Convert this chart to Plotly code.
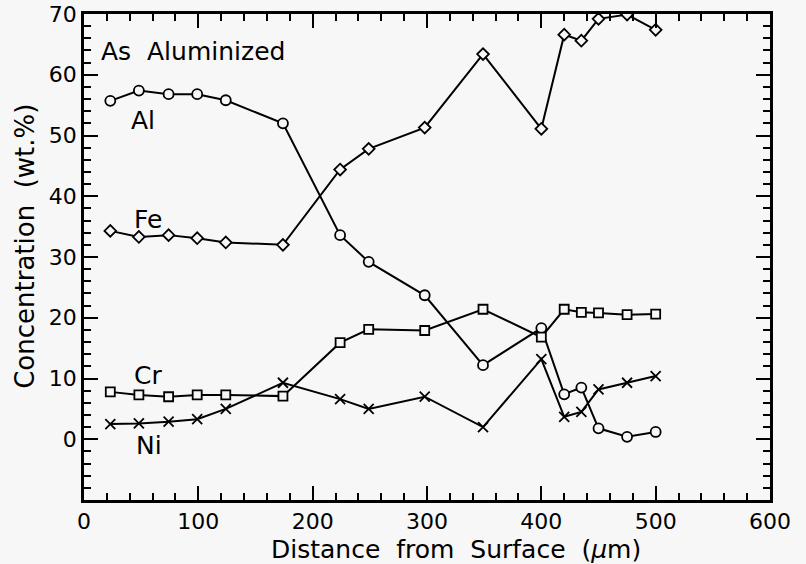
import plotly.graph_objects as go

distance = [23, 48, 74, 99, 124, 174, 224, 249, 298, 349, 400, 420, 435, 450, 475, 500]
al = [55.7, 57.4, 56.8, 56.8, 55.8, 52.0, 33.6, 29.2, 23.7, 12.2, 18.3, 7.4, 8.5, 1.8, 0.4, 1.2]
fe = [34.3, 33.3, 33.6, 33.1, 32.4, 32.0, 44.4, 47.8, 51.3, 63.4, 51.1, 66.6, 65.6, 69.2, 69.9, 67.4]
cr = [7.8, 7.3, 7.0, 7.3, 7.3, 7.1, 15.9, 18.1, 17.9, 21.4, 16.8, 21.4, 20.9, 20.8, 20.5, 20.6]
ni = [2.5, 2.6, 2.9, 3.3, 5.0, 9.3, 6.6, 5.0, 7.0, 2.0, 13.2, 3.7, 4.5, 8.2, 9.3, 10.4]

x_ticks = [0, 100, 200, 300, 400, 500, 600]
y_ticks = [0, 10, 20, 30, 40, 50, 60, 70]

BG = "#f7f7f7"
FONT = "DejaVu Sans"
NB = "\u00a0"

series = [
    ("Al", al, "circle", 10),
    ("Fe", fe, "diamond", 9),
    ("Cr", cr, "square", 9),
    ("Ni", ni, "x-thin", 10),
]

fig = go.Figure()
for name, vals, sym, size in series:
    fig.add_trace(go.Scatter(
        x=distance, y=vals, mode="lines+markers", name=name,
        line=dict(color="black", width=2),
        marker=dict(symbol=sym, size=size, color=BG,
                    line=dict(color="black", width=1.8)),
    ))

annots = [
    ("As" + NB + NB + "Aluminized", 13, 63.8),
    ("Al", 39, 52.5),
    ("Fe", 42, 36.1),
    ("Cr", 42, 10.5),
    ("Ni", 44, -1.0),
]
for txt, ax_, ay_ in annots:
    fig.add_annotation(x=ax_, y=ay_, text=txt, showarrow=False, xanchor="left",
                       font=dict(family=FONT, size=25, color="black"))

# axis titles (placed as paper annotations to match the original's offsets)
fig.add_annotation(xref="paper", yref="paper", x=0.542, y=-0.101,
                   text="Distance" + NB + NB + "from" + NB + NB + "Surface" + NB + NB + "(<i>μ</i>m)",
                   showarrow=False, xanchor="center", yanchor="middle",
                   font=dict(family=FONT, size=25, color="black"))
fig.add_annotation(xref="paper", yref="paper", x=-0.086, y=0.521,
                   text="Concentration" + NB + NB + "(wt.%)", textangle=-90,
                   showarrow=False, xanchor="center", yanchor="middle",
                   font=dict(family=FONT, size=26, color="black"))

axis_common = dict(
    showgrid=False, zeroline=False, showline=True, linecolor="black", linewidth=2.5,
    mirror="ticks", ticks="inside", ticklen=14, tickwidth=2, tickcolor="black",
    tickfont=dict(family=FONT, size=22, color="black"), automargin=False,
)

fig.update_xaxes(range=[0, 600], tickvals=x_ticks,
                 minor=dict(dtick=20, tick0=0, ticklen=7, tickwidth=1.8, tickcolor="black", ticks="inside"),
                 **axis_common)
fig.update_yaxes(range=[-10, 70], tickvals=y_ticks,
                 minor=dict(dtick=2, tick0=0, ticklen=7, tickwidth=1.8, tickcolor="black", ticks="inside"),
                 **axis_common)

fig.update_layout(
    width=806, height=564, showlegend=False,
    paper_bgcolor=BG, plot_bgcolor=BG,
    margin=dict(l=84, r=36, t=14, b=64),
)

fig.write_html("out.html")
